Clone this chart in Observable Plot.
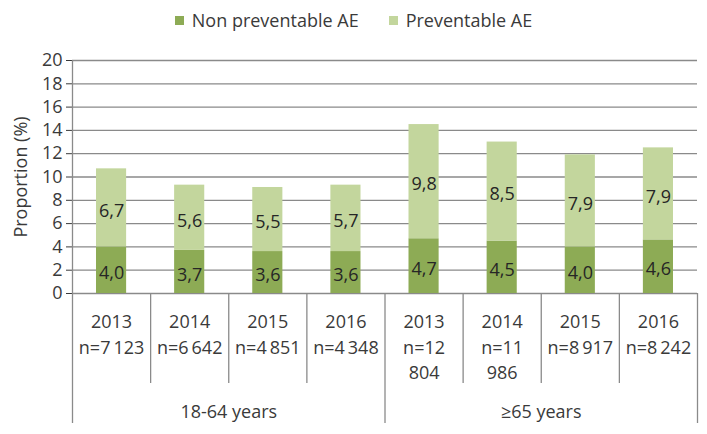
<!DOCTYPE html>
<html>
<head>
<meta charset="utf-8">
<script src="https://cdn.jsdelivr.net/npm/d3@7"></script>
<script src="https://cdn.jsdelivr.net/npm/@observablehq/plot@0.6"></script>
<style>
  html, body { margin: 0; padding: 0; background: #fff; }
  #wrap { width: 707px; font-family: 'Open Sans', sans-serif; color: #3a3a3a; }
  #legend { height: 40px; display: flex; justify-content: center; align-items: center; gap: 30px; font-size: 18px; box-sizing: border-box; }
  #legend .item { display: flex; align-items: center; gap: 8px; }
  #legend .sw { width: 9px; height: 9px; display: inline-block; }
</style>
</head>
<body>
<div id="wrap">
  <div id="legend"></div>
  <div id="chart"></div>
</div>
<script>
// ---- data ----
const groups = ["18-64 years", "≥65 years"];
const years = ["2013", "2014", "2015", "2016", "2013", "2014", "2015", "2016"];
const nLabels = ["n=7\u2009123", "n=6\u2009642", "n=4\u2009851", "n=4\u2009348", "n=12\n804", "n=11\n986", "n=8\u2009917", "n=8\u2009242"];
const series = ["Non preventable AE", "Preventable AE"];
const nonPreventable = [4.0, 3.7, 3.6, 3.6, 4.7, 4.5, 4.0, 4.6];
const preventable = [6.7, 5.6, 5.5, 5.7, 9.8, 8.5, 7.9, 7.9];
const yTicks = [0, 2, 4, 6, 8, 10, 12, 14, 16, 18, 20];
const colors = ["#8dab55", "#c3d69d"];

// ---- derived tables ----
const rows = [];
years.forEach((yr, i) => {
  rows.push({i, series: series[0], value: nonPreventable[i]});
  rows.push({i, series: series[1], value: preventable[i]});
});
const cats = years.map((yr, i) => ({i, label: yr + "\n" + nLabels[i]}));
const perGroup = years.length / groups.length;
const groupRows = groups.map((g, k) => ({g, k, center: k * perGroup + perGroup / 2}));
const boundaries = d3.range(0, years.length + 1);
const innerBounds = boundaries.filter(b => b % perGroup !== 0);
const outerBounds = boundaries.filter(b => b % perGroup === 0 && b !== 0);
const fmt = v => v.toFixed(1).replace(".", ",");

// ---- legend ----
const legend = document.getElementById("legend");
series.forEach((s, k) => {
  const it = document.createElement("span");
  it.className = "item";
  it.innerHTML = `<span class="sw" style="background:${colors[k]}"></span><span>${s}</span>`;
  legend.appendChild(it);
});

// ---- chart ----
const chart = Plot.plot({
  width: 707,
  height: 394,
  marginLeft: 72,
  marginRight: 10,
  marginTop: 20,
  marginBottom: 141,
  x: {domain: [0, years.length], axis: null},
  y: {
    domain: [0, 20],
    ticks: yTicks,
    tickSize: 6,
    tickPadding: 4,
    tickFormat: d => String(d),
    label: "Proportion (%)",
    labelAnchor: "center",
    labelOffset: 58,
    labelArrow: "none"
  },
  color: {domain: series, range: colors},
  style: {fontFamily: "'Open Sans', sans-serif", fontSize: "18px", color: "#3a3a3a", background: "white", overflow: "visible"},
  marks: [
    Plot.ruleY(yTicks, {stroke: "#8a8a8a", strokeWidth: 1.3}),
    Plot.rectY(rows, {x1: "i", x2: d => d.i + 1, y: "value", fill: "series", insetLeft: 24, insetRight: 24}),
    Plot.text(rows, Plot.stackY({x: d => d.i + 0.5, y: "value", z: "series", text: d => fmt(d.value), fontSize: 18, fill: "#262626", dy: 3})),
    Plot.ruleX([0], {stroke: "#8a8a8a", strokeWidth: 1.3, insetBottom: -130}),
    Plot.ruleX(innerBounds, {x: d => d, y1: 0, y2: 0, stroke: "#8a8a8a", strokeWidth: 1.3, insetBottom: -90}),
    Plot.ruleX(outerBounds, {x: d => d, y1: 0, y2: 0, stroke: "#8a8a8a", strokeWidth: 1.3, insetBottom: -130}),
    Plot.text(cats, {x: d => d.i + 0.5, y: 0, text: "label", lineAnchor: "top", dy: 17, lineHeight: 1.4, fontSize: 18, fill: "#3a3a3a"}),
    Plot.text(groupRows, {x: "center", y: 0, text: "g", dy: 119, fontSize: 18, fill: "#3a3a3a"})
  ]
});
document.getElementById("chart").appendChild(chart);
</script>
</body>
</html>
